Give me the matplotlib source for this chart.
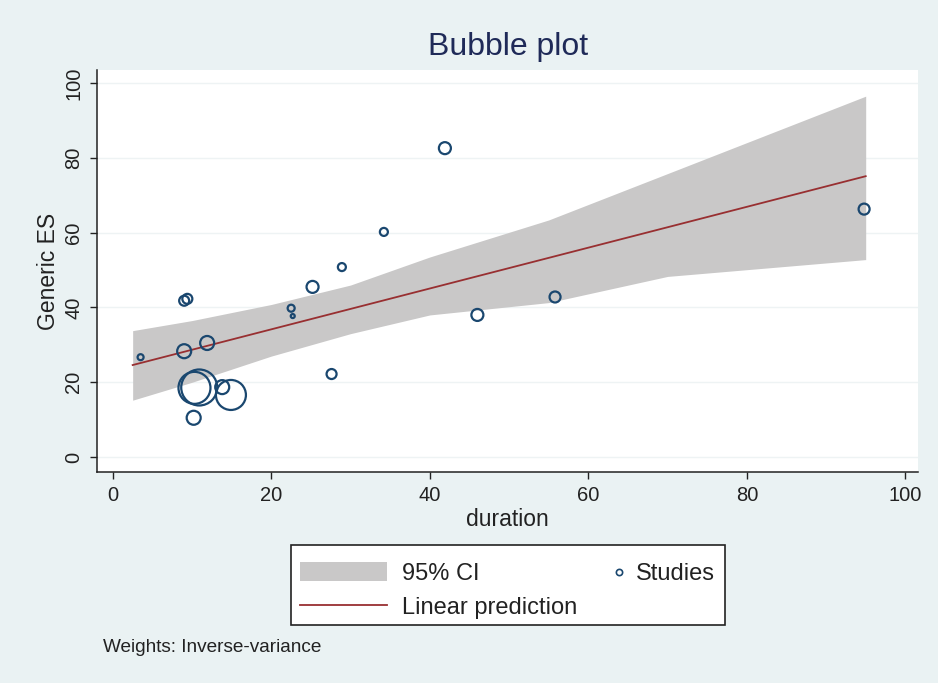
import matplotlib
matplotlib.use('Agg')
import matplotlib.pyplot as plt
from matplotlib.patches import Patch, Rectangle
from matplotlib.lines import Line2D
import numpy as np

plt.rcParams['font.family'] = ['Liberation Sans', 'DejaVu Sans']

# studies: duration, effect size, bubble radius (px, ~ weight)
duration = [3.5, 9.0, 11.9, 9.0, 9.4, 10.3, 10.9, 13.8, 14.9, 10.2,
            22.5, 22.7, 25.2, 28.9, 27.6, 34.2, 41.9, 46.0, 55.8, 94.8]
es = [26.7, 28.3, 30.5, 41.8, 42.3, 18.5, 18.6, 18.7, 16.6, 10.5,
      39.8, 37.7, 45.5, 50.8, 22.2, 60.2, 82.6, 38.0, 42.8, 66.3]
weight = [3, 7, 7, 5, 5, 16, 18, 7, 15, 7,
          3.5, 2, 6, 4, 5, 4, 6, 6, 5.5, 5.5]

# linear prediction and its 95% CI
fit_x = [2.5, 95.0]
fit_y = [24.6, 75.1]
ci_x = [2.5, 10, 20, 30, 40, 55, 70, 95]
ci_lo = [15.2, 20.0, 27.0, 33.0, 38.0, 41.3, 48.3, 52.8]
ci_hi = [33.8, 36.5, 40.8, 46.0, 53.5, 63.4, 75.8, 96.5]

navy = '#1a476f'
maroon = '#982f31'
bg = '#eaf2f3'
band = '#c9c8c8'
ink = '#222222'

fig = plt.figure(figsize=(9.38, 6.83), dpi=100)
fig.patch.set_facecolor(bg)
ax = fig.add_axes([97/938, 1 - 472/683, (918 - 97)/938, (472 - 70)/683])
ax.set_facecolor('white')

ax.fill_between(ci_x, ci_lo, ci_hi, color=band, lw=0, zorder=2)
ax.plot(fit_x, fit_y, color=maroon, lw=1.3, zorder=3)
sizes = [(1.44 * r) ** 2 for r in weight]
ax.scatter(duration, es, s=sizes, facecolors='none', edgecolors=navy,
           linewidths=1.6, zorder=4)

ax.set_xlim(-2, 101.6)
ax.set_ylim(-4, 103.5)
ax.set_xticks([0, 20, 40, 60, 80, 100])
ax.set_yticks([0, 20, 40, 60, 80, 100])
ax.grid(axis='y', color='#eef3f4', lw=1)
ax.set_axisbelow(True)
for s in ['top', 'right']:
    ax.spines[s].set_visible(False)
for s in ['left', 'bottom']:
    ax.spines[s].set_color(ink)
    ax.spines[s].set_linewidth(1.1)
ax.tick_params(axis='both', direction='out', length=5, width=1, colors=ink,
               labelsize=14.5)
ax.tick_params(axis='x', pad=5)
ax.tick_params(axis='y', pad=5)
for lab in ax.get_yticklabels():
    lab.set_rotation(90)
    lab.set_va('center')

ax.set_xlabel('duration', fontsize=16.5, labelpad=2, color=ink)
ax.set_ylabel('Generic ES', fontsize=16.5, labelpad=3, color=ink)
fig.text(508/938, 1 - 47/683, 'Bubble plot', ha='center', va='center',
         fontsize=23, color='#1f2a58')

# legend box drawn separately, entries placed inside it
box = Rectangle((291/938, 1 - 625/683), 434/938, 80/683, transform=fig.transFigure,
                facecolor='white', edgecolor=ink, lw=1.2, zorder=4)
fig.add_artist(box)

h_ci = Patch(facecolor=band, edgecolor='none')
h_fit = Line2D([], [], color=maroon, lw=1.3)
leg = fig.legend([h_ci, h_fit], ['95% CI', 'Linear prediction'],
                 bbox_to_anchor=(300/938, 1 - 562/683), loc='upper left',
                 fontsize=17, handlelength=3.7, handleheight=0.85,
                 handletextpad=0.6, labelspacing=0.48, borderpad=0,
                 borderaxespad=0, frameon=False)
leg.set_zorder(5)
for t in leg.get_texts():
    t.set_color(ink)

h_st = Line2D([], [], ls='none', marker='o', ms=4.5, mfc='none', mec=navy, mew=1.2)
leg2 = fig.legend([h_st], ['Studies'], bbox_to_anchor=(613/938, 1 - 574/683),
                  loc='center left', fontsize=17, handlelength=0.55,
                  handletextpad=0.4, borderpad=0, borderaxespad=0, frameon=False)
leg2.set_zorder(5)
for t in leg2.get_texts():
    t.set_color(ink)

fig.text(103/938, 1 - 648/683, 'Weights: Inverse-variance', ha='left',
         va='center', fontsize=13.7, color=ink)

fig.savefig('out.png', dpi=100, facecolor=bg)
